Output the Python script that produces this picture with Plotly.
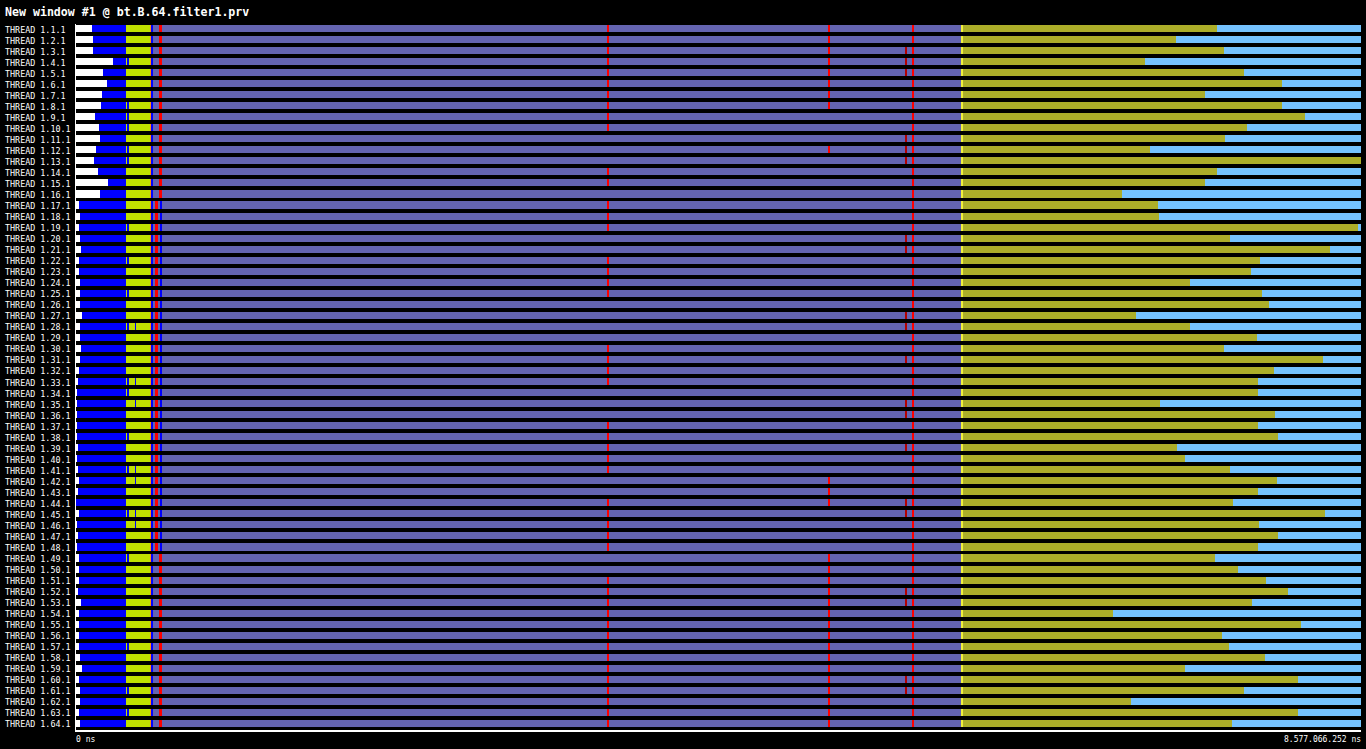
import plotly.graph_objects as go

# ---------------- data ----------------
threads = [f"THREAD 1.{i}.1" for i in range(1, 65)]
TOTAL_NS = 8577066252

# end of the "Not created" state per thread (millions of ns)
not_created_end_mns = [
    106.8, 113.5, 113.5, 247.0, 180.2, 206.9, 173.5, 166.9, 126.8, 153.5,
    160.2, 133.5, 120.1, 146.8, 213.6, 160.2, 20.0, 26.7, 20.0, 26.7,
    33.4, 20.0, 20.0, 26.7, 26.7, 26.7, 40.0, 26.7, 26.7, 33.4,
    26.7, 20.0, 13.3, 6.7, 6.7, 6.7, 6.7, 6.7, 13.3, 6.7,
    13.3, 20.0, 13.3, 0.0, 20.0, 6.7, 13.3, 6.7, 20.0, 20.0,
    20.0, 13.3, 33.4, 20.0, 20.0, 20.0, 20.0, 26.7, 40.0, 20.0,
    26.7, 26.7, 20.0, 26.7,
]

# end of the I/O phase per thread (millions of ns); Idle afterwards
io_end_mns = [
    7615.9, 7342.2, 7662.6, 7135.3, 7796.1, 8049.7, 7535.8, 8049.7, 8203.2, 7816.1,
    7669.3, 7168.7, 8577.1, 7615.9, 7535.8, 6981.8, 7222.1, 7228.8, 8557.0, 7702.7,
    8370.1, 7902.9, 7842.8, 7435.7, 7916.3, 7962.9, 7075.2, 7435.7, 7882.9, 7662.6,
    8323.4, 7996.4, 7889.6, 7889.6, 7235.5, 8003.0, 7889.6, 8023.1, 7348.9, 7402.3,
    7702.7, 8016.4, 7889.6, 7722.7, 8336.8, 7896.2, 8023.1, 7889.6, 7602.5, 7756.1,
    7942.9, 8089.8, 7849.5, 6921.7, 8176.6, 7649.3, 7696.0, 7936.2, 7402.3, 8156.5,
    7796.1, 7041.8, 8156.5, 7716.0,
]

# common phase boundaries (millions of ns)
phase_end_mns = [333.7, 493.9, 503.9, 514.0, 5907.2, 5920.5]
phase_state = ["Running", "Others", "Group Communication", "Running",
               "Immediate Receive", "Scheduling"]

# short events: (start, end) millions of ns, state, threads affected
event_start_mns = [557.3, 530.6, 560.7, 3544.3, 5019.4, 5540.0, 5579.0, 340.4, 393.8]
event_end_mns = [570.7, 544.0, 567.4, 3554.3, 5029.4, 5546.7, 5594.5, 350.4, 400.5]
event_state = ["Waiting", "Waiting", "Running", "Waiting", "Waiting",
               "Synchronization", "Waiting", "Running", "Running"]
event_threads = [
    list(range(1, 17)) + list(range(49, 65)),
    list(range(17, 49)),
    list(range(17, 49)),
    list(range(1, 11)) + [14, 15, 17, 18, 19, 22, 23, 24, 25, 30, 31, 32, 33,
                          37, 38, 39, 40, 41, 44, 45, 46, 47, 48] + list(range(51, 65)),
    list(range(1, 9)) + [12, 42, 43, 44] + list(range(49, 65)),
    [3, 4, 5, 11, 12, 13, 20, 21, 27, 28, 31, 35, 36, 39, 44, 45, 52, 53, 60, 61],
    list(range(1, 65)),
    [4, 8, 9, 10, 12, 13, 19, 22, 25, 28, 33, 34, 38, 41, 45, 49, 57, 61, 63],
    [28, 33, 35, 41, 42, 45, 46],
]

state_colors = {
    "Not created": "#ffffff",
    "Running": "#0000ff",
    "Others": "#c0e000",
    "Group Communication": "#ff901a",
    "Immediate Receive": "#6464b1",
    "Scheduling": "#f0f03c",
    "I/O": "#acae29",
    "Idle": "#75c3ff",
    "Waiting": "#ff0000",
    "Synchronization": "#b30000",
}

# ---------------- build segments ----------------
layers = []  # list of (state, rows, bases, lengths)


def add_layer(state, rows, starts, ends):
    layers.append((state, rows, starts, [e - s for s, e in zip(starts, ends)]))


rows_all = list(range(64))
M = 1e6
add_layer("Not created", rows_all, [0.0] * 64, [v * M for v in not_created_end_mns])
prev = [v * M for v in not_created_end_mns]
for pe, st in zip(phase_end_mns, phase_state):
    add_layer(st, rows_all, prev, [pe * M] * 64)
    prev = [pe * M] * 64
add_layer("I/O", rows_all, prev, [v * M for v in io_end_mns])
add_layer("Idle", rows_all, [v * M for v in io_end_mns], [TOTAL_NS] * 64)
for s, e, st, th in zip(event_start_mns, event_end_mns, event_state, event_threads):
    r = [t - 1 for t in th]
    add_layer(st, r, [s * M] * len(r), [e * M] * len(r))

fig = go.Figure()
for st, rows, bases, lens in layers:
    fig.add_trace(go.Bar(
        orientation="h", y=rows, x=lens, base=bases,
        width=0.64, marker=dict(color=state_colors[st], line=dict(width=0)),
        hoverinfo="skip", showlegend=False, name=st,
    ))

W, H = 1366, 749
ML, MR, MT, MB = 76, 5, 24, 19
plot_w = W - ML - MR

annotations = []
for i, name in enumerate(threads):
    annotations.append(dict(
        x=-(ML - 3) / plot_w, xref="paper", xanchor="left",
        y=i, yref="y", yanchor="middle", yshift=-1,
        text=name, showarrow=False,
        font=dict(family="DejaVu Sans Mono", size=8.4, color="white"),
    ))
annotations.append(dict(
    x=-2 / plot_w, xref="paper", xanchor="left", y=-9.5 / (H - MT - MB), yref="paper",
    yanchor="middle", text="0 ns", showarrow=False,
    font=dict(family="DejaVu Sans Mono", size=8, color="white"),
))
annotations.append(dict(
    x=1 + 2 / plot_w, xref="paper", xanchor="right", y=-9.5 / (H - MT - MB), yref="paper",
    yanchor="middle", text="8.577.066.252 ns", showarrow=False,
    font=dict(family="DejaVu Sans Mono", size=8, color="white"),
))

fig.update_layout(
    width=W, height=H,
    margin=dict(l=ML, r=MR, t=MT, b=MB, pad=0),
    paper_bgcolor="black", plot_bgcolor="black",
    barmode="overlay", bargap=0,
    title=dict(text="<b>New window #1 @ bt.B.64.filter1.prv</b>",
               x=5 / W, xanchor="left", y=1 - 11.5 / H, yanchor="middle",
               font=dict(family="DejaVu Sans Mono", size=11.6, color="white")),
    xaxis=dict(range=[0, TOTAL_NS], showgrid=False, zeroline=False,
               showticklabels=False, ticks="", showline=True,
               linecolor="white", linewidth=2, fixedrange=True),
    yaxis=dict(range=[63.591, -0.409], showgrid=False, zeroline=False,
               showticklabels=False, ticks="", showline=True,
               linecolor="white", linewidth=1, fixedrange=True),
    annotations=annotations,
)

fig.write_html("out.html", config={"displayModeBar": False})
